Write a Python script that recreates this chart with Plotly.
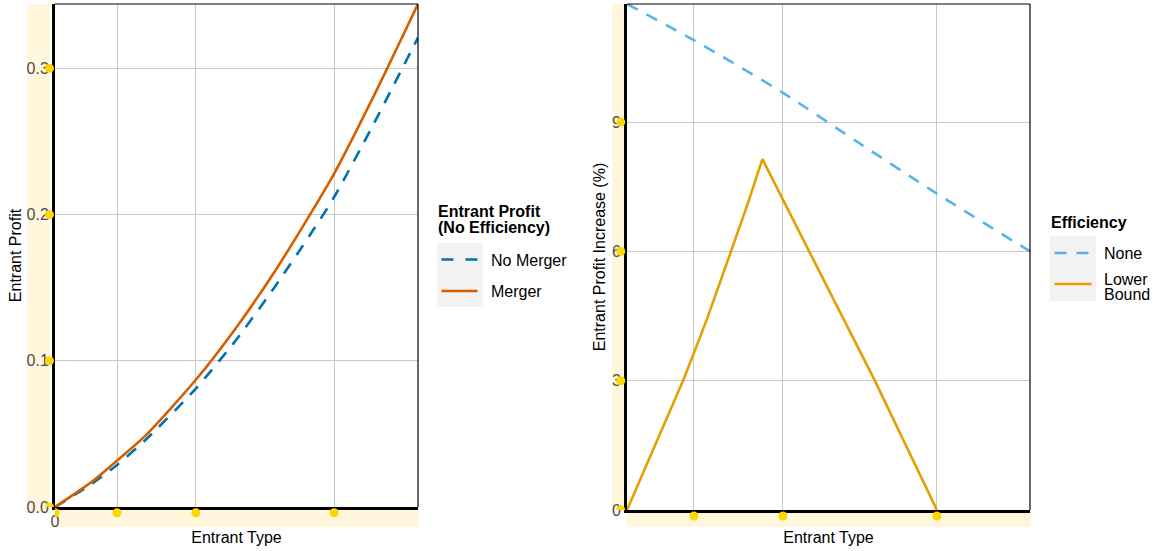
import plotly.graph_objects as go

# ---------------- data ----------------
entrant_type_left = [0, 0.10, 0.171, 0.25, 0.388, 0.50, 0.60, 0.705, 0.769, 0.88, 1.0]
profit_no_merger = [0, 0.0156, 0.0288, 0.046, 0.081, 0.1146, 0.1486, 0.187, 0.212, 0.263, 0.321]
profit_merger = [0, 0.017, 0.0318, 0.049, 0.087, 0.123, 0.159, 0.201, 0.228, 0.282, 0.344]
left_x_ticks = [0, 0.171, 0.388, 0.769]
left_x_text = ["0", "", "", ""]
left_y_ticks = [0, 0.1, 0.2, 0.3]
left_y_text = ["0.0", "0.1", "0.2", "0.3"]

entrant_type_none = [0, 0.166, 0.387, 0.570, 0.769, 1.0]
increase_none = [11.74, 10.9, 9.68, 8.55, 7.34, 6.0]
entrant_type_lower = [0, 0.065, 0.139, 0.166, 0.20, 0.258, 0.30, 0.336, 0.387, 0.452, 0.615, 0.769]
increase_lower = [0, 1.39, 3.0, 3.64, 4.47, 6.0, 7.12, 8.14, 7.19, 6.0, 3.0, 0]
right_x_ticks = [0.166, 0.387, 0.769]
right_x_text = ["", "", ""]
right_y_ticks = [0, 3, 6, 9]
right_y_text = ["0", "3", "6", "9"]

legend_left_title = ["Entrant Profit", "(No Efficiency)"]
legend_left_labels = ["No Merger", "Merger"]
legend_right_title = "Efficiency"
legend_right_labels = ["None", "Lower", "Bound"]

# ---------------- layout helpers ----------------
W, H = 1163, 551
def px(x):
    return x / W
def py(y):
    return 1 - y / H

L_X0, L_X1, L_Y0, L_Y1 = 55, 418, 507, 4
R_X0, R_X1, R_Y0, R_Y1 = 627, 1030, 510, 4
L_YMAX = 0.344
R_YMAX = 11.74

FONT = "Liberation Sans, Arial, sans-serif"
FS = 16
GOLD = "#FFD700"
BAND = "#FFF6DC"
GRID = "#C8C8C8"
C_NOM, C_MER, C_NONE, C_LOW = "#0072B2", "#D55E00", "#56B4E9", "#E69F00"
DASH = "12px,10px"
LW = 2.6

fig = go.Figure()

fig.add_trace(go.Scatter(x=entrant_type_left, y=profit_no_merger, mode="lines", name="No Merger",
                         line=dict(color=C_NOM, width=LW, dash=DASH, shape="spline", smoothing=0.7),
                         xaxis="x", yaxis="y", showlegend=False))
fig.add_trace(go.Scatter(x=entrant_type_left, y=profit_merger, mode="lines", name="Merger",
                         line=dict(color=C_MER, width=LW, shape="spline", smoothing=0.7),
                         xaxis="x", yaxis="y", showlegend=False))
fig.add_trace(go.Scatter(x=entrant_type_none, y=increase_none, mode="lines", name="None",
                         line=dict(color=C_NONE, width=LW, dash=DASH, shape="spline", smoothing=0.7),
                         xaxis="x2", yaxis="y2", showlegend=False))
fig.add_trace(go.Scatter(x=entrant_type_lower, y=increase_lower, mode="lines", name="Lower Bound",
                         line=dict(color=C_LOW, width=LW),
                         xaxis="x2", yaxis="y2", showlegend=False))

axis_common = dict(showgrid=True, gridcolor=GRID, gridwidth=1, zeroline=False, automargin=False,
                   showline=True, linecolor="black", linewidth=3, ticks="",
                   tickfont=dict(family=FONT, size=FS, color="#4D4D4D"))

fig.update_layout(
    width=W, height=H,
    margin=dict(l=0, r=0, t=0, b=0, autoexpand=False),
    paper_bgcolor="white", plot_bgcolor="white",
    font=dict(family=FONT, size=FS, color="black"),
    showlegend=False,
    xaxis=dict(domain=[px(L_X0), px(L_X1)], range=[0, 1], tickvals=left_x_ticks, ticktext=left_x_text,
               ticklabelstandoff=-2,
               title=dict(text="Entrant Type", font=dict(size=FS), standoff=3), anchor="y", **axis_common),
    yaxis=dict(domain=[py(L_Y0), py(L_Y1)], range=[0, L_YMAX], tickvals=left_y_ticks, ticktext=left_y_text,
               title=dict(text="Entrant Profit", font=dict(size=FS), standoff=1), anchor="x", **axis_common),
    xaxis2=dict(domain=[px(R_X0), px(R_X1)], range=[0, 1], tickvals=right_x_ticks, ticktext=right_x_text,
                title=dict(text="Entrant Type", font=dict(size=FS), standoff=17), anchor="y2", **axis_common),
    yaxis2=dict(domain=[py(R_Y0), py(R_Y1)], range=[0, R_YMAX], tickvals=right_y_ticks, ticktext=right_y_text,
                title=dict(text="Entrant Profit Increase (%)", font=dict(size=FS), standoff=3), anchor="x2",
                **axis_common),
)

shapes = []
# yellow label bands
for (x0, x1, y0, y1) in [(27, 50, 4, 513), (55, 419, 510, 527), (612, 625, 4, 512), (627, 1031, 512, 527)]:
    shapes.append(dict(type="rect", xref="paper", yref="paper", x0=px(x0), x1=px(x1), y0=py(y1), y1=py(y0),
                       fillcolor=BAND, line=dict(width=0), layer="below"))
# thin top/right panel borders
for xa, ya in [("x", "y"), ("x2", "y2")]:
    shapes.append(dict(type="line", xref=xa + " domain", yref=ya + " domain", x0=0, x1=1, y0=1, y1=1,
                       line=dict(color="black", width=1.2), layer="above"))
    shapes.append(dict(type="line", xref=xa + " domain", yref=ya + " domain", x0=1, x1=1, y0=0, y1=1,
                       line=dict(color="black", width=1.2), layer="above"))

# gold tick dots placed at the tick values just outside the axes
R = 4.5
def ydots(xa, ya, ticks, off):
    for t in ticks:
        shapes.append(dict(type="circle", xref=xa + " domain", yref=ya, xsizemode="pixel", ysizemode="pixel",
                           xanchor=0, yanchor=t, x0=off - R, x1=off + R, y0=-R, y1=R,
                           fillcolor=GOLD, line=dict(width=0), layer="above"))
def xdots(xa, ya, ticks, off):
    for t in ticks:
        shapes.append(dict(type="circle", xref=xa, yref=ya + " domain", xsizemode="pixel", ysizemode="pixel",
                           xanchor=t, yanchor=0, x0=-R, x1=R, y0=off - R, y1=off + R,
                           fillcolor=GOLD, line=dict(width=0), layer="above"))
ydots("x", "y", left_y_ticks, -5.5)
xdots("x", "y", left_x_ticks, -5.7)
ydots("x2", "y2", right_y_ticks, -6.2)
xdots("x2", "y2", right_x_ticks, -6.0)

# legend key backgrounds and key lines
for (x0, x1, y0, y1) in [(437, 483, 243, 307), (1050, 1096, 236, 301)]:
    shapes.append(dict(type="rect", xref="paper", yref="paper", x0=px(x0), x1=px(x1), y0=py(y1), y1=py(y0),
                       fillcolor="#F2F2F2", line=dict(width=0), layer="below"))
for (x0, x1, y, col, dash) in [(441.5, 477.5, 259.5, C_NOM, "12px,12px"), (441.5, 477.5, 291, C_MER, "solid"),
                               (1054.5, 1091.5, 253, C_NONE, "12px,10px"), (1054.5, 1091.5, 284, C_LOW, "solid")]:
    shapes.append(dict(type="line", xref="paper", yref="paper", x0=px(x0), x1=px(x1), y0=py(y), y1=py(y),
                       line=dict(color=col, width=LW, dash=dash), layer="above"))
fig.update_layout(shapes=shapes)

annotations = []
def label(text, x, y, bold=False):
    annotations.append(dict(text=("<b>%s</b>" % text) if bold else text, xref="paper", yref="paper",
                            x=px(x), y=py(y), xanchor="left", yanchor="middle", showarrow=False,
                            font=dict(family=FONT, size=FS, color="black"), borderpad=0))
label(legend_left_title[0], 437, 211, bold=True)
label(legend_left_title[1], 437, 228, bold=True)
label(legend_left_labels[0], 490, 260)
label(legend_left_labels[1], 490, 291)
label(legend_right_title, 1050, 222, bold=True)
label(legend_right_labels[0], 1103, 253)
label(legend_right_labels[1], 1103, 279)
label(legend_right_labels[2], 1103, 294)
fig.update_layout(annotations=annotations)

fig.write_html("out.html", config={"displayModeBar": False},
               post_script="document.body.style.margin='0px';")
